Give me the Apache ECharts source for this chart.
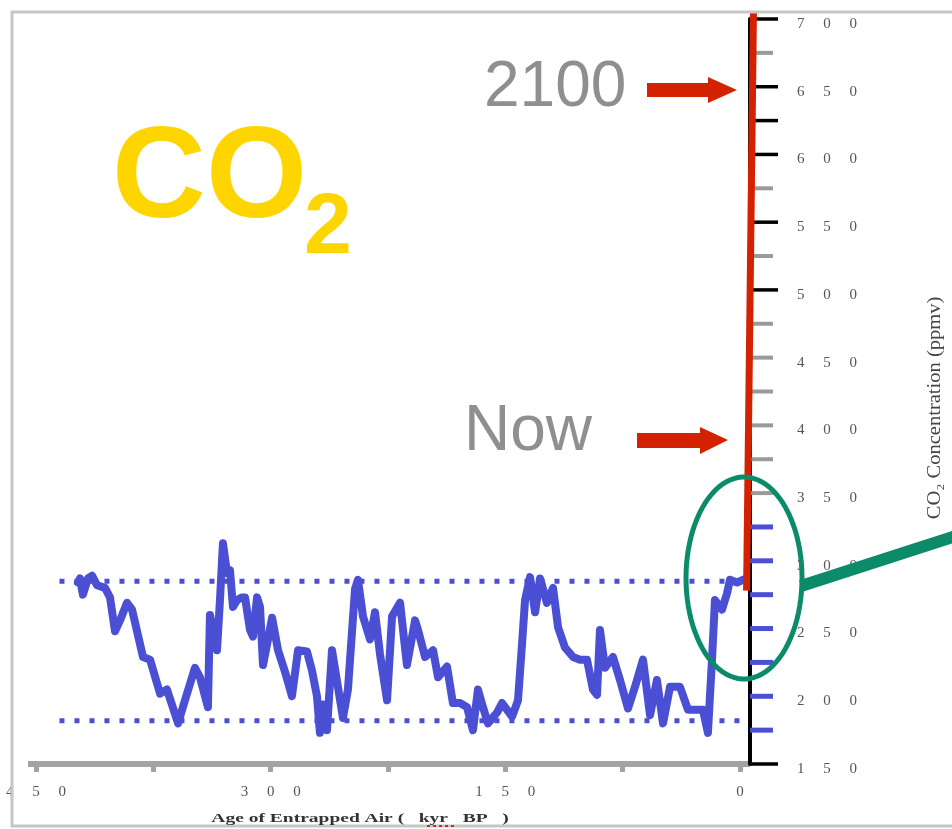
<!DOCTYPE html>
<html>
<head>
<meta charset="utf-8">
<script src="https://cdn.jsdelivr.net/npm/echarts@6/dist/echarts.min.js"></script>
<style>
html,body{margin:0;padding:0;background:#fff;}
#c{width:952px;height:829px;}
</style>
</head>
<body>
<div id="c"></div>
<script>
// ---- Data ----
// Vostok ice-core CO2 record: age of entrapped air (kyr BP) and concentration (ppmv)
const ageKyr = [423.2,421.9,420.0,416.8,414.2,411.0,405.9,402.7,399.5,396.3,391.8,388.6,381.6,377.1,370.7,366.3,359.2,354.8,348.4,345.2,
  340.1,338.8,336.9,334.3,332.4,330.5,327.9,326.0,324.1,321.5,318.3,316.4,313.2,311.3,308.7,306.8,304.9,301.7,299.1,295.3,
  290.8,286.4,282.5,276.8,273.6,270.4,268.5,266.5,264.0,260.8,257.0,253.8,250.6,246.1,244.2,241.0,236.5,233.3,230.1,225.6,
  222.4,217.3,212.9,207.7,205.8,201.3,196.2,193.0,187.3,183.5,179.0,174.5,170.7,167.5,164.3,161.1,155.3,152.1,145.7,141.9,
  139.3,137.4,134.2,131.0,127.8,123.4,119.5,116.3,111.9,106.7,102.3,97.8,94.0,91.4,89.5,86.3,81.2,76.7,71.6,67.1,
  62.0,57.5,53.1,49.2,44.7,38.4,33.2,23.7,20.5,17.9,16.0,11.5,8.3,6.4,1.9,-1.9];
const co2Ppmv = [284,287,275,287,289,282,280,273,248,256,269,264,229,227,202,205,180,197,221,214,
  192,260,249,234,271,313,291,293,266,271,273,273,249,244,273,266,223,242,258,234,
  218,200,234,233,219,200,173,194,175,234,207,184,205,279,286,259,242,262,231,197,
  259,269,223,256,249,229,234,214,222,195,195,192,175,205,192,180,188,195,185,197,
  239,271,288,262,287,269,280,251,236,229,227,227,205,201,249,221,229,212,191,207,
  227,186,212,180,207,207,190,190,173,227,271,264,276,286,284,286];
// projected rise: "Now" to "2100"
const futureAge = [-4.2, -8.6];
const futureCo2 = [278, 705];
// dotted reference levels (interglacial max / glacial min)
const dottedLevels = [285, 182];
const dottedAgeRange = [435, -3];
// axis ranges & ticks
const xRange = [0, 450];
const xTickStep = 75;
const xLabelStep = 150;
const yRange = [150, 700];
const yLabelStep = 50;
const yTicksBlack = [700, 650, 625, 600, 550, 500, 150];
const yTicksGray = [675, 575, 525, 475, 450, 425, 400, 375, 350];
const yTicksBlue = [325, 300, 275, 250, 225, 200, 175];
// annotation texts
const titleMain = 'CO';
const titleSub = '2';
const label2100 = '2100';
const labelNow = 'Now';
const xAxisTitle = 'Age of Entrapped Air (   kyr   BP   )';
const yAxisTitle = 'CO\u2082 Concentration (ppmv)';

// ---- Chart ----
const AXIS_SHIFT = 10;
const BLUE = '#4a4fd3';
const RED = '#d42100';
const GREEN = '#0b8b6a';
const spaced = v => String(v).split('').join('\u2002\u2002 ');

function tickSeries(values, color, len, width) {
  return {
    type: 'custom',
    coordinateSystem: 'cartesian2d',
    clip: false,
    silent: true,
    z: 3,
    data: values.map(v => [xRange[0], v]),
    renderItem: function (params, api) {
      const p = api.coord([api.value(0), api.value(1)]);
      return {
        type: 'line',
        shape: { x1: p[0] + AXIS_SHIFT, y1: p[1], x2: p[0] + AXIS_SHIFT + len, y2: p[1] },
        style: { stroke: color, lineWidth: width }
      };
    }
  };
}

function ellipsePoints(cx, cy, rx, ry, n) {
  const pts = [];
  for (let i = 0; i < n; i++) {
    const t = i / n * Math.PI * 2;
    pts.push([cx + rx * Math.cos(t), cy + ry * Math.sin(t)]);
  }
  return pts;
}

const chart = echarts.init(document.getElementById('c'));
const option = {
  backgroundColor: '#ffffff',
  animation: false,
  grid: { left: 36, right: 212, top: 19, bottom: 65 },
  xAxis: {
    type: 'value',
    min: xRange[0], max: xRange[1], interval: xTickStep,
    inverse: true,
    axisLine: { show: true, onZero: false, lineStyle: { color: '#a3a3a3', width: 6 } },
    axisTick: { show: true, length: 8, lineStyle: { color: '#a3a3a3', width: 5 } },
    axisLabel: {
      margin: 21,
      fontFamily: 'Liberation Serif', fontSize: 15, color: '#555',
      formatter: v => (v % xLabelStep === 0 ? spaced(v) : '')
    },
    splitLine: { show: false }
  },
  yAxis: {
    type: 'value',
    position: 'right',
    offset: AXIS_SHIFT,
    min: yRange[0], max: yRange[1], interval: yLabelStep,
    axisLine: { show: true, onZero: false, lineStyle: { color: '#000', width: 4 } },
    axisTick: { show: false },
    axisLabel: {
      margin: 47,
      verticalAlign: 'top',
      lineHeight: 10,
      fontFamily: 'Liberation Serif', fontSize: 15, color: '#555',
      formatter: v => spaced(v)
    },
    splitLine: { show: false }
  },
  series: [
    ...dottedLevels.map(level => ({
      type: 'line',
      data: dottedAgeRange.map(a => [a, level]),
      symbol: 'none',
      clip: false,
      silent: true,
      z: 2,
      lineStyle: { color: BLUE, width: 5, type: [5, 10], cap: 'butt' }
    })),
    tickSeries(yTicksGray, '#9a9a9a', 23, 4),
    tickSeries(yTicksBlack, '#000', 28, 3.5),
    tickSeries(yTicksBlue, BLUE, 23, 5),
    {
      type: 'line',
      data: ageKyr.map((a, i) => [a, co2Ppmv[i]]),
      symbol: 'none',
      clip: false,
      z: 4,
      lineStyle: { color: BLUE, width: 8, join: 'round', cap: 'round' }
    },
    {
      type: 'custom',
      coordinateSystem: 'cartesian2d',
      clip: false,
      silent: true,
      z: 6,
      data: futureAge.map((a, i) => [a, futureCo2[i]]),
      renderItem: function (params, api) {
        const i = params.dataIndex;
        if (i === 0) return;
        const p0 = api.coord([futureAge[i - 1], futureCo2[i - 1]]);
        const p1 = api.coord([api.value(0), api.value(1)]);
        return {
          type: 'line',
          shape: { x1: p0[0], y1: p0[1], x2: p1[0], y2: p1[1] },
          style: { stroke: RED, lineWidth: 7 }
        };
      }
    }
  ],
  graphic: [
    { type: 'rect', z: 100, silent: true,
      shape: { x: 12, y: 12, width: 960, height: 814 },
      style: { fill: 'none', stroke: '#c6c6c6', lineWidth: 3 } },
    { type: 'line', z: 0, silent: true,
      shape: { x1: 28, y1: 764, x2: 750, y2: 764 },
      style: { stroke: '#a3a3a3', lineWidth: 6 } },
    { type: 'text', z: 100, x: 112, y: 181,
      style: { text: titleMain, fill: '#FFD500', fontFamily: 'Liberation Sans', fontWeight: 'bold', fontSize: 130, align: 'left', verticalAlign: 'middle' } },
    { type: 'text', z: 100, x: 304, y: 229,
      style: { text: titleSub, fill: '#FFD500', fontFamily: 'Liberation Sans', fontWeight: 'bold', fontSize: 86, align: 'left', verticalAlign: 'middle' } },
    { type: 'text', z: 100, x: 484, y: 88,
      style: { text: label2100, fill: '#8f8f8f', fontFamily: 'Liberation Sans', fontSize: 64, align: 'left', verticalAlign: 'middle' } },
    { type: 'text', z: 100, x: 464, y: 432,
      style: { text: labelNow, fill: '#8f8f8f', fontFamily: 'Liberation Sans', fontSize: 64, align: 'left', verticalAlign: 'middle' } },
    { type: 'polygon', z: 100,
      shape: { points: [[647,83],[708,83],[708,77],[737,90],[708,103],[708,97],[647,97]] },
      style: { fill: RED } },
    { type: 'polygon', z: 100,
      shape: { points: [[637,433],[700,433],[700,427],[728,440],[700,454],[700,448],[637,448]] },
      style: { fill: RED } },
    { type: 'polygon', z: 110,
      shape: { points: ellipsePoints(744, 578, 58, 101, 90) },
      style: { fill: 'none', stroke: GREEN, lineWidth: 5 } },
    { type: 'line', z: 110,
      shape: { x1: 801, y1: 586, x2: 965, y2: 533 },
      style: { stroke: GREEN, lineWidth: 12 } },
    { type: 'text', z: 100, x: 935, y: 408, rotation: Math.PI / 2, scaleX: 1.14,
      style: { text: yAxisTitle, fill: '#444', fontFamily: 'Liberation Serif', fontSize: 18, align: 'center', verticalAlign: 'middle' } },
    { type: 'text', z: 100, x: 360, y: 819, scaleX: 1.5,
      style: { text: xAxisTitle, fill: '#333', fontFamily: 'Liberation Serif', fontWeight: 'bold', fontSize: 13, align: 'center', verticalAlign: 'middle' } },
    { type: 'line', z: 101,
      shape: { x1: 427, y1: 826, x2: 456, y2: 826 },
      style: { stroke: '#e02020', lineWidth: 2, lineDash: [3, 3] } }
  ]
};
chart.setOption(option);
</script>
</body>
</html>
